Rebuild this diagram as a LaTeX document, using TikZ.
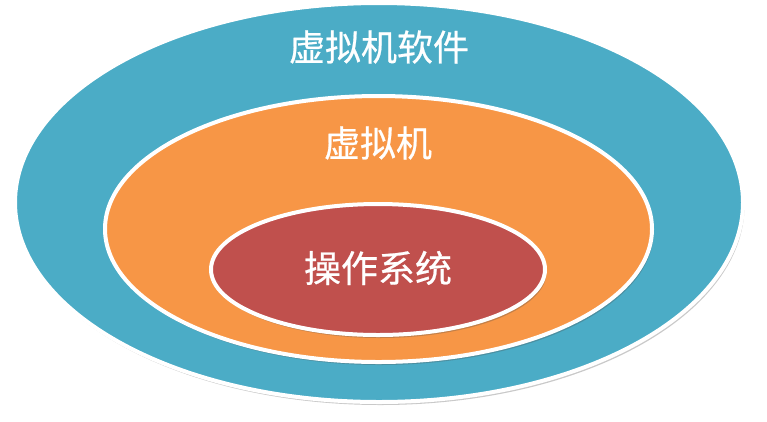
\documentclass[tikz,border=0pt]{standalone}
\usepackage{fontspec}
\setmainfont{Noto Sans CJK SC}
\newfontfamily\ringfont[FakeBold=0.6]{Noto Sans CJK SC}
\usetikzlibrary{shadows}
\definecolor{softaqua}{HTML}{4BACC6}
\definecolor{vmorange}{HTML}{F79646}
\definecolor{osred}{HTML}{C0504D}
\tikzset{
  ring/.style={draw=white, line width=4pt,
    drop shadow={shadow xshift=1.5pt, shadow yshift=-3pt, opacity=0.3, fill=black!70}},
  ringlabel/.style={text=white, inner sep=0pt, font=\ringfont\fontsize{36}{36}\selectfont}
}

\begin{document}
\begin{tikzpicture}[x=1pt,y=-1pt]
\useasboundingbox (0,0) rectangle (767,421);
% outer ring: software
\draw[ring, fill=softaqua] (379,202.5) ellipse [x radius=364pt, y radius=199.5pt];
% middle ring: virtual machine
\draw[ring, fill=vmorange] (378.5,229) ellipse [x radius=273.5pt, y radius=133pt];
% inner ring: operating system
\draw[ring, fill=osred] (378,269.5) ellipse [x radius=167pt, y radius=65.5pt];
\node[ringlabel] (soft) at (379,47) {虚拟机软件};
\node[ringlabel] (vm) at (378,143) {虚拟机};
\node[ringlabel, font=\ringfont\fontsize{37}{37}\selectfont] (os) at (378,268) {操作系统};
\end{tikzpicture}
\end{document}
